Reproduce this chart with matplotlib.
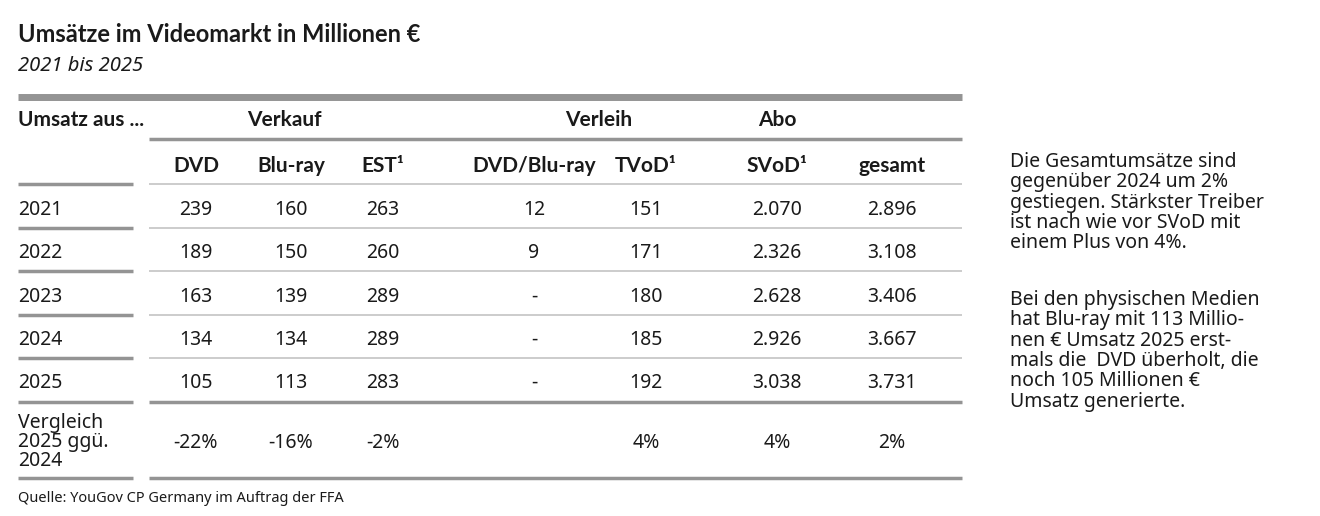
import matplotlib.pyplot as plt

years = ["2021", "2022", "2023", "2024", "2025"]
dvd = ["239", "189", "163", "134", "105"]
bluray = ["160", "150", "139", "134", "113"]
est = ["263", "260", "289", "289", "283"]
verleih = ["12", "9", "-", "-", "-"]
tvod = ["151", "171", "180", "185", "192"]
svod = ["2.070", "2.326", "2.628", "2.926", "3.038"]
gesamt = ["2.896", "3.108", "3.406", "3.667", "3.731"]
vergleich = ["-22%", "-16%", "-2%", "", "4%", "4%", "2%"]
columns = ["DVD", "Blu-ray", "EST¹", "DVD/Blu-ray", "TVoD¹", "SVoD¹", "gesamt"]
groups = [("Verkauf", 284), ("Verleih", 599), ("Abo", 777)]
note = ("Die Gesamtumsätze sind\ngegenüber 2024 um 2%\ngestiegen. Stärkster Treiber\n"
        "ist nach wie vor SVoD mit\neinem Plus von 4%.")
note2 = ("Bei den physischen Medien\nhat Blu-ray mit 113 Millio-\nnen € Umsatz 2025 erst-\n"
         "mals die  DVD überholt, die\nnoch 105 Millionen €\nUmsatz generierte.")

W, H = 1320, 516
plt.rcParams['font.family'] = ['Noto Sans', 'DejaVu Sans']
fig = plt.figure(figsize=(W / 100, H / 100), dpi=100)
ax = fig.add_axes([0, 0, 1, 1])
ax.set_xlim(0, W)
ax.set_ylim(H, 0)
ax.axis('off')

dark = '#1a1a1a'
grey = '#949494'
light = '#c4c4c4'
fs = 14
bold = dict(family=['Lato', 'DejaVu Sans'], weight='bold', color=dark, va='center')

ax.text(18, 35, "Umsätze im Videomarkt in Millionen €", fontsize=17, **bold)
ax.text(18, 66, "2021 bis 2025", fontsize=14.5, style='italic', color=dark, va='center')

ax.plot([18, 962], [97, 97], color=grey, lw=5, solid_capstyle='butt')
ax.text(18, 120, "Umsatz aus ...", fontsize=fs + 1, **bold)
for g, x in groups:
    ax.text(x, 120, g, fontsize=fs + 1, ha='center', **bold)
ax.plot([149, 962], [139, 139], color=grey, lw=2.5, solid_capstyle='butt')

xs = [196, 291, 383, 534, 646, 777, 892]
for c, x in zip(columns, xs):
    ax.text(x, 166, c, fontsize=fs + 1, ha='center', **bold)

seps = [184, 228, 271, 315, 358]
rows_y = [210, 253, 297, 340, 383]
for s in seps:
    ax.plot([18, 133], [s, s], color=grey, lw=2.5, solid_capstyle='butt')
    ax.plot([149, 962], [s, s], color=light, lw=1.2, solid_capstyle='butt')

data = list(zip(dvd, bluray, est, verleih, tvod, svod, gesamt))
for y, yr, row in zip(rows_y, years, data):
    ax.text(18, y, yr, fontsize=fs, color=dark, va='center')
    for v, x in zip(row, xs):
        ax.text(x, y, v, fontsize=fs, color=dark, va='center', ha='center')

for s in [402, 478]:
    ax.plot([18, 133], [s, s], color=grey, lw=2.5, solid_capstyle='butt')
    ax.plot([149, 962], [s, s], color=grey, lw=2.5, solid_capstyle='butt')
ax.text(18, 442, "Vergleich\n2025 ggü.\n2024", fontsize=fs, color=dark, va='center', linespacing=0.95)
for v, x in zip(vergleich, xs):
    ax.text(x, 443, v, fontsize=fs, color=dark, va='center', ha='center')

ax.text(18, 498, "Quelle: YouGov CP Germany im Auftrag der FFA", fontsize=10.5, color=dark, va='center')

ax.text(1010, 152, note, fontsize=fs, color=dark, va='top', linespacing=1.02)
ax.text(1010, 290, note2, fontsize=fs, color=dark, va='top', linespacing=1.02)

fig.savefig("out.png", dpi=100)
